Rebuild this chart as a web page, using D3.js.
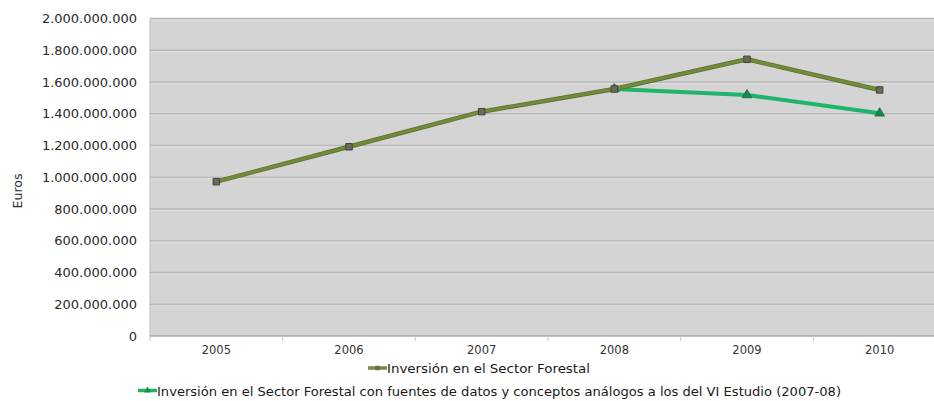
<!DOCTYPE html>
<html><head><meta charset="utf-8">
<script src="https://cdn.jsdelivr.net/npm/d3@7"></script>
<style>body{margin:0;background:#fff;} svg{display:block;}</style>
</head><body>
<script>
const years = ["2005","2006","2007","2008","2009","2010"];
const inversion = [972e6, 1192e6, 1413e6, 1556e6, 1743e6, 1550e6];
const inversionVI = [null, null, null, 1556e6, 1518e6, 1403e6];
const yTicks = [0,200e6,400e6,600e6,800e6,1000e6,1200e6,1400e6,1600e6,1800e6,2000e6];
const legendLabels = ["Inversión en el Sector Forestal",
  "Inversión en el Sector Forestal con fuentes de datos y conceptos análogos a los del VI Estudio (2007-08)"];

(function(){
const W=934,H=401;
const svg=d3.select("body").append("svg").attr("width",W).attr("height",H);
const pL=150,pR=946,pT=18.5,pB=336;
const x=d3.scaleBand().domain(years).range([pL,pR]);
const y=d3.scaleLinear().domain([0,2e9]).range([pB,pT]);
const fmt=v=>d3.format(",")(v).replace(/,/g,".");

svg.append("rect").attr("x",pL).attr("y",pT).attr("width",pR-pL).attr("height",pB-pT).attr("fill","#d4d4d4");
const g=svg.append("g");
yTicks.forEach(t=>{
  if(t===0) return;
  g.append("line").attr("x1",pL).attr("x2",pR).attr("y1",y(t)).attr("y2",y(t)).attr("stroke","#b9b9b9").attr("stroke-width",1.4);
  g.append("line").attr("x1",pL).attr("x2",pR).attr("y1",y(t)+1.6).attr("y2",y(t)+1.6).attr("stroke","#dfdfdf").attr("stroke-width",1);
});
svg.append("line").attr("x1",pL).attr("x2",pL).attr("y1",pT).attr("y2",pB).attr("stroke","#bdbdbd");
const yAxis=d3.axisLeft(y).tickValues(yTicks).tickFormat(fmt).tickSize(0).tickPadding(13);
const ya=svg.append("g").attr("transform",`translate(${pL},0)`).call(yAxis);
ya.select(".domain").remove();
ya.selectAll("text").attr("font-family","DejaVu Sans").attr("font-size","13px").attr("fill","#2a2a2a");
svg.append("line").attr("x1",pL).attr("x2",pR).attr("y1",pB).attr("y2",pB).attr("stroke","#a8a8a8").attr("stroke-width",1.5);
years.forEach(d=>{
  const bx=x(d);
  svg.append("line").attr("x1",bx).attr("x2",bx).attr("y1",pB).attr("y2",pB+5).attr("stroke","#c8c8c8");
});
const xAxis=d3.axisBottom(x).tickSize(0).tickPadding(10);
const xa=svg.append("g").attr("transform",`translate(0,${pB})`).call(xAxis);
xa.select(".domain").remove();
xa.selectAll("text").attr("font-family","DejaVu Sans").attr("font-size","11.5px").attr("fill","#333");

svg.append("text").attr("transform","translate(22,191) rotate(-90)").attr("text-anchor","middle")
  .attr("font-family","DejaVu Sans").attr("font-size","12.5px").attr("fill","#2a2a2a").text("Euros");

const cx=d=>x(d)+x.bandwidth()/2;
const line=d3.line().defined(d=>d.v!=null).x(d=>cx(d.k)).y(d=>y(d.v));
const s1=years.map((k,i)=>({k,v:inversion[i]}));
const s2=years.map((k,i)=>({k,v:inversionVI[i]}));

const c1="#718c3b", c2="#1fb46a", c2m="#168a4c";
svg.append("path").datum(s2).attr("d",line).attr("fill","none").attr("stroke",c2).attr("stroke-width",4).attr("stroke-linejoin","round");
const tri=d3.symbol().type(d3.symbolTriangle).size(40);
svg.selectAll(".m2").data(s2.filter(d=>d.v!=null)).join("path").attr("d",tri)
  .attr("transform",d=>`translate(${cx(d.k)},${y(d.v)})`).attr("fill",c2m).attr("stroke","#0e6b38").attr("stroke-width",0.8);
svg.append("path").datum(s1).attr("d",line).attr("fill","none").attr("stroke","#5c7430").attr("stroke-width",4.5).attr("stroke-linejoin","round");
svg.append("path").datum(s1).attr("d",line).attr("fill","none").attr("stroke",c1).attr("stroke-width",2.8).attr("stroke-linejoin","round");
const sq=d3.symbol().type(d3.symbolSquare).size(42);
svg.selectAll(".m1").data(s1).join("path").attr("d",sq)
  .attr("transform",d=>`translate(${cx(d.k)},${y(d.v)})`).attr("fill","#6a6a5a").attr("stroke","#44453a").attr("stroke-width",1);

const leg=[{x0:368,yb:373,len:203,c:c1,lw:3.5,sym:sq,mf:"#6a6a5a"},{x0:138,yb:395.5,len:684,c:c2,lw:3.5,sym:tri,mf:c2m}];
leg.forEach((L,i)=>{
  const my=L.yb-5;
  svg.append("line").attr("x1",L.x0).attr("x2",L.x0+19).attr("y1",my).attr("y2",my).attr("stroke",L.c).attr("stroke-width",L.lw);
  svg.append("path").attr("d",L.sym).attr("transform",`translate(${L.x0+9.5},${my}) scale(0.7)`).attr("fill",L.mf);
  svg.append("text").attr("x",L.x0+19).attr("y",L.yb).attr("font-family","DejaVu Sans Condensed").attr("font-size","13px")
    .attr("fill","#1a1a1a").attr("textLength",L.len).attr("lengthAdjust","spacingAndGlyphs").text(legendLabels[i]);
});
})();
</script>
</body></html>
